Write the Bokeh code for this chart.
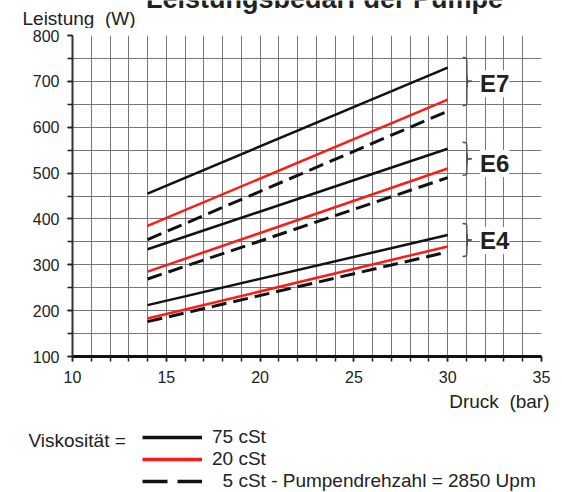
from bokeh.plotting import figure
from bokeh.layouts import column
from bokeh.models import Range1d, FixedTicker, Label, Legend, LegendItem
from bokeh.embed import file_html
from bokeh.resources import INLINE

# ---- data ----
pressure = [14, 30]
e7_75 = [455, 730]
e7_20 = [385, 660]
e7_5 = [355, 635]
e6_75 = [334, 553]
e6_20 = [285, 510]
e6_5 = [269, 490]
e4_75 = [212, 365]
e4_20 = [183, 340]
e4_5 = [176, 328]

groups = ["E7", "E6", "E4"]
x_ticks = [10, 15, 20, 25, 30, 35]
x_minor = list(range(10, 36))
y_ticks = [100, 200, 300, 400, 500, 600, 700, 800]
y_minor = list(range(100, 801, 50))
legend_labels = ["75 cSt", "20 cSt", "\u00a0\u00a05 cSt - Pumpendrehzahl = 2850 Upm"]

FONT = "Liberation Sans"
TXT = "#222222"
BLACK = "#111111"
RED = "#ff1a1a"
GRID = "#777777"
W = 562
NAN = float("nan")


def blank(h):
    f = figure(width=W, height=h, x_range=Range1d(0, W), y_range=Range1d(h, 0),
               x_axis_type=None, y_axis_type=None, output_backend="svg",
               toolbar_location=None, min_border=0, frame_align=False)
    f.outline_line_color = None
    f.grid.visible = False
    return f


# ---- header ----
head = blank(28)
head.add_layout(Label(x=324, y=-2, text="Leistungsbedarf der Pumpe", text_align="center",
                      text_baseline="alphabetic", text_font=FONT, text_font_size="27px",
                      text_font_style="bold", text_color=TXT))
head.add_layout(Label(x=22, y=17.5, text="Leistung\u00a0 (W)", text_align="left",
                      text_baseline="middle", text_font=FONT, text_font_size="19px",
                      text_color=TXT))

# ---- main chart ----
p = figure(width=W, height=362, x_range=Range1d(10, 35), y_range=Range1d(100, 800),
           output_backend="svg", toolbar_location=None, frame_align=False,
           min_border_left=72, min_border_right=21, min_border_top=7, min_border_bottom=34)
p.outline_line_color = None
p.background_fill_color = "white"
p.border_fill_color = "white"

xt = FixedTicker(ticks=x_ticks, minor_ticks=x_minor)
yt = FixedTicker(ticks=y_ticks, minor_ticks=y_minor)
p.xaxis.ticker = xt
p.yaxis.ticker = yt
p.xgrid.ticker = xt
p.ygrid.ticker = yt
for g in (p.xgrid, p.ygrid):
    g.grid_line_color = GRID
    g.grid_line_width = 1
    g.minor_grid_line_color = GRID
    g.minor_grid_line_width = 1

for ax in (p.xaxis, p.yaxis):
    ax.major_tick_in = 0
    ax.minor_tick_in = 0
    ax.major_tick_out = 5
    ax.minor_tick_out = 5
    ax.major_tick_line_color = "#222222"
    ax.minor_tick_line_color = "#222222"
    ax.major_tick_line_width = 1.5
    ax.minor_tick_line_width = 1.5
    ax.major_label_text_font = FONT
    ax.major_label_text_font_size = "16px"
    ax.major_label_text_color = TXT
p.xaxis.axis_line_width = 3
p.xaxis.axis_line_color = BLACK
p.yaxis.axis_line_width = 2
p.yaxis.axis_line_color = "#333333"
p.xaxis.major_label_standoff = 9
p.yaxis.major_label_standoff = 8

series = [
    (e7_75, BLACK, "solid"), (e7_20, RED, "solid"), (e7_5, BLACK, "15 7"),
    (e6_75, BLACK, "solid"), (e6_20, RED, "solid"), (e6_5, BLACK, "15 7"),
    (e4_75, BLACK, "solid"), (e4_20, RED, "solid"), (e4_5, BLACK, "15 7"),
]
for ys, col, dash in series:
    p.line(pressure, ys, line_color=col, line_width=2.5 if dash == "solid" else 3,
           line_dash=dash)

# braces and group labels (annotation positions)
brace_spans = [(752, 700, 647), (567, 531, 495), (390, 354, 318)]
label_y = [695, 521, 353]
xl, xs, xtip = 30.79, 31.02, 31.28
d = 13
for (top, mid, bot), name, ly in zip(brace_spans, groups, label_y):
    p.bezier(x0=[xl, xs, xtip, xs], y0=[top, mid - d, mid, bot + d],
             x1=[xs, xtip, xs, xl], y1=[top - d, mid, mid + d, bot],
             cx0=[xs, xs, xs, xs], cy0=[top, mid, mid, bot],
             cx1=[xs, xs, xs, xs], cy1=[top, mid, mid, bot],
             line_color="#555555", line_width=1.5)
    p.segment(x0=[xs, xs], y0=[top - d, mid + d], x1=[xs, xs], y1=[mid - d, bot + d],
              line_color="#555555", line_width=1.5)
    p.add_layout(Label(x=32.5, y=ly, text=name, text_align="center", text_baseline="middle",
                       text_font=FONT, text_font_size="24px", text_font_style="bold",
                       text_color=TXT, background_fill_color="white"))

# ---- footer: x label and legend ----
foot = blank(102)
foot.add_layout(Label(x=549, y=10.7, text="Druck\u00a0 (bar)", text_align="right",
                      text_baseline="middle", text_font=FONT, text_font_size="19px",
                      text_color=TXT))
foot.add_layout(Label(x=28, y=50, text="Viskosität =", text_align="left",
                      text_baseline="middle", text_font=FONT, text_font_size="19px",
                      text_color=TXT))
r1 = foot.line(x=[NAN], y=[NAN], line_color=BLACK, line_width=3.5)
r2 = foot.line(x=[NAN], y=[NAN], line_color=RED, line_width=3.5)
r3 = foot.line(x=[NAN], y=[NAN], line_color=BLACK, line_width=3.5, line_dash="25 10")
legend = Legend(items=[LegendItem(label=legend_labels[0], renderers=[r1]),
                       LegendItem(label=legend_labels[1], renderers=[r2]),
                       LegendItem(label=legend_labels[2], renderers=[r3])],
                location=(142, 0.3), glyph_width=60, glyph_height=20, label_height=20,
                label_standoff=10, spacing=0, padding=0, margin=0,
                border_line_alpha=0, background_fill_alpha=0,
                label_text_font=FONT, label_text_font_size="19px", label_text_color=TXT)
foot.add_layout(legend)

layout = column(head, p, foot, spacing=0)
open("out.html", "w").write(file_html(layout, INLINE))
